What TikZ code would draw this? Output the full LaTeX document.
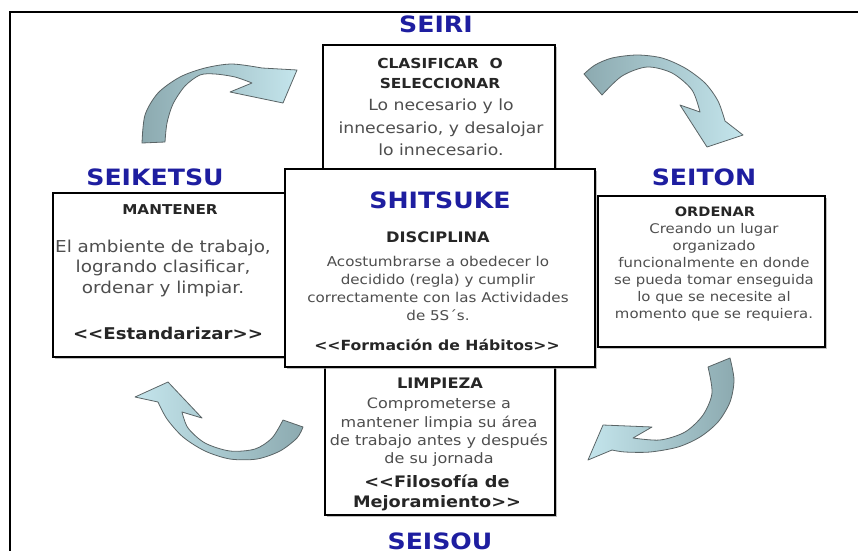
\documentclass[tikz,border=0pt]{standalone}
\usepackage{fontspec}
\setmainfont{DejaVu Sans}[FakeStretch=1.12]
\usetikzlibrary{shadows}
\definecolor{lblue}{RGB}{30,30,160}
\definecolor{bodyg}{RGB}{78,78,78}
\definecolor{adark}{RGB}{140,170,176}
\definecolor{alight}{RGB}{196,229,236}
\definecolor{aline}{RGB}{90,100,102}
\tikzset{
  box/.style={draw=black, line width=2.6pt, fill=white, rectangle, inner sep=0pt,
    drop shadow={shadow xshift=1.6pt, shadow yshift=-1.6pt, fill=black!35, opacity=0.7}},
  lbl/.style={text=lblue, font=\fontsize{22.5}{24}\selectfont\bfseries, inner sep=0pt},
  hd/.style={text=black!85, font=\fontsize{13.8}{20}\selectfont\bfseries, inner sep=0pt, align=center},
  bt/.style={text=bodyg, inner sep=0pt, align=center},
  bb/.style={text=black!85, inner sep=0pt, align=center},
  curv/.style={draw=aline, line width=0.8pt, line join=round},
  frame/.style={draw=black, line width=1.4pt}
}
\begin{document}
\begin{tikzpicture}[x=1pt,y=-1pt]
\useasboundingbox (0,0) rectangle (858,550);
\draw[frame] (10,12) rectangle (900,600);

% curved arrows
\draw[curv, left color=adark, right color=alight]
  plot[smooth] coordinates {(142,143) (145,115) (158,93) (180,77) (205,68) (232,64) (262,68)}
  -- (297,70) -- (283,103) -- (230,92) -- (252,83)
  -- plot[smooth] coordinates {(252,83) (235,77) (215,74) (200,75) (185,86) (173,104) (167,123) (165,142)}
  -- cycle;
\draw[curv, left color=adark, right color=alight]
  (584,74) -- plot[smooth] coordinates {(584,74) (595,65) (612,58) (637,55) (662,58) (685,68) (705,83) (718,101) (725,121)}
  -- (743,135) -- (707,147) -- (680,105) -- (700,112)
  -- plot[smooth] coordinates {(700,112) (692,90) (672,73) (647,67) (622,76) (602,95)}
  -- cycle;
\draw[curv, left color=alight, right color=adark]
  (730,358) -- plot[smooth] coordinates {(730,358) (734,380) (730,402) (718,422) (700,437) (678,447) (650,452) (625,452) (612,450)}
  -- (588,460) -- (603,425) -- (652,427) -- (633,438)
  -- plot[smooth] coordinates {(633,438) (660,440) (685,432) (703,415) (712,393) (708,367)}
  -- cycle;
\draw[curv, left color=alight, right color=adark]
  (303,427) -- plot[smooth] coordinates {(303,427) (297,438) (280,451) (257,459) (230,459) (205,451) (183,437) (167,419) (158,402)}
  -- (135,397) -- (168,382) -- (202,418) -- (182,412)
  -- plot[smooth] coordinates {(182,412) (188,428) (205,443) (230,451) (255,449) (272,438) (283,420)}
  -- cycle;

% boxes
\node[box, minimum width=232, minimum height=124] (seiri) at (439,107) {};
\node[box, minimum width=232, minimum height=164] (seiketsu) at (169,275) {};
\node[box, minimum width=227, minimum height=151] (seiton) at (711.5,271.5) {};
\node[box, minimum width=230, minimum height=148] (limpieza) at (440,441) {};
\node[box, minimum width=310, minimum height=198] (shitsuke) at (440,268) {};

% titles
\node[lbl] (tseiri) at (436,24) {SEIRI};
\node[lbl] (tseiketsu) at (155,177) {SEIKETSU};
\node[lbl] (tseiton) at (704,177) {SEITON};
\node[lbl] (tshitsuke) at (440,200) {SHITSUKE};
\node[lbl] (tseisou) at (440,541) {SEISOU};

% SEIRI box
\node[hd] (h1) at (440,73) {CLASIFICAR\ \ O\\SELECCIONAR};
\node[bt, font=\fontsize{15.4}{22.5}\selectfont] (b1) at (441,127.5) {Lo necesario y lo\\innecesario, y desalojar\\lo innecesario.};

% SEIKETSU box
\node[hd, font=\fontsize{13.6}{18}\selectfont\bfseries] (h2) at (170,210) {MANTENER};
\node[bt, font=\fontsize{16.4}{20.5}\selectfont] (b2) at (163,268) {El ambiente de trabajo,\\logrando clasificar,\\ordenar y limpiar.};
\node[bb, font=\fontsize{16.2}{18}\selectfont\bfseries] (e2) at (168,333) {<{}<Estandarizar>{}>};

% SHITSUKE box
\node[hd, font=\fontsize{14.5}{18}\selectfont\bfseries] (h3) at (438,237) {DISCIPLINA};
\node[bt, font=\fontsize{13.5}{17.7}\selectfont] (b3) at (438,288.5) {Acostumbrarse a obedecer lo\\decidido (regla) y cumplir\\correctamente con las Actividades\\de 5S´s.};
\node[bb, font=\fontsize{14}{18}\selectfont\bfseries] (e3) at (437,345) {<{}<Formación de Hábitos>{}>};

% SEITON box
\node[hd, font=\fontsize{13}{18}\selectfont\bfseries] (h4) at (715,212) {ORDENAR};
\node[bt, font=\fontsize{13.3}{17}\selectfont] (b4) at (714,272.5) {Creando un lugar\\organizado\\funcionalmente en donde\\se pueda tomar enseguida\\lo que se necesite al\\momento que se requiera.};

% LIMPIEZA box
\node[hd, font=\fontsize{14.5}{18}\selectfont\bfseries] (h5) at (440,383) {LIMPIEZA};
\node[bt, font=\fontsize{14.3}{18.3}\selectfont] (b5) at (439,432.5) {Comprometerse a\\mantener limpia su área\\de trabajo antes y después\\de su jornada};
\node[bb, font=\fontsize{15.8}{20}\selectfont\bfseries] (e5) at (437,493) {<{}<Filosofía de\\Mejoramiento>{}>};
\end{tikzpicture}
\end{document}
